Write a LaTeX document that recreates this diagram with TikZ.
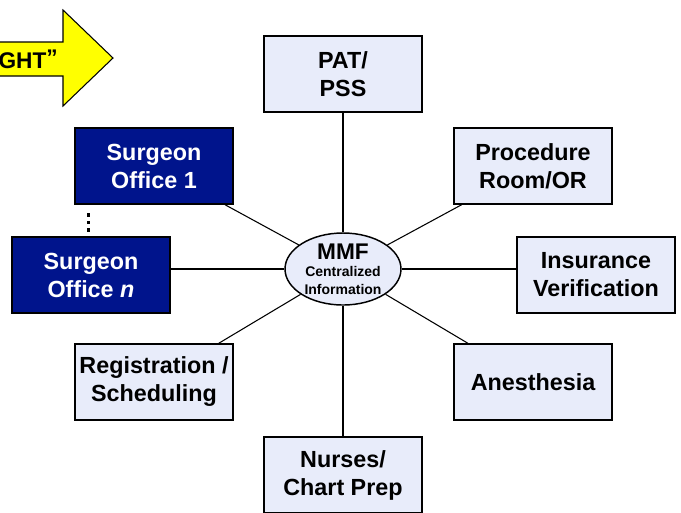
\documentclass[tikz,border=0pt]{standalone}
\usepackage{fontspec}
\setmainfont{Liberation Sans}
\usetikzlibrary{shapes.geometric}
\definecolor{navy}{RGB}{0,20,140}
\definecolor{lightbox}{RGB}{232,236,250}
\definecolor{arrowyellow}{RGB}{255,255,0}
\begin{document}
\begin{tikzpicture}[x=0.75pt,y=-0.75pt,
  boxtext/.style={font=\bfseries\fontsize{17.5}{21}\selectfont,align=center},
  lightnode/.style={boxtext,draw=black,line width=1.1pt,fill=lightbox,minimum width=118.5pt,minimum height=57pt,inner sep=0pt},
  darknode/.style={boxtext,draw=black,line width=1.1pt,fill=navy,text=white,minimum width=118.5pt,minimum height=57pt,inner sep=0pt},
  link/.style={draw=black,line width=0.8pt}]
\useasboundingbox (0,0) rectangle (681,512);
% arrow
\draw[fill=arrowyellow,draw=black,line width=0.8pt] (-20,42)--(63,42)--(63,10)--(113,58)--(63,106)--(63,76)--(-20,76)--cycle;
\node[anchor=base east,font=\bfseries\fontsize{17}{20}\selectfont,inner sep=0pt] (ght) at (58,68) {GHT\raisebox{0.1em}{”}};
% nodes
\node[ellipse,draw=black,line width=1.1pt,fill=lightbox,minimum width=87pt,minimum height=54pt,inner sep=0pt,align=center,font=\bfseries\fontsize{10.5}{13.5}\selectfont] (mmf) at (343,269)
  {\fontsize{17}{19}\selectfont MMF\\[-1pt]\fontsize{10.5}{13.5}\selectfont Centralized\\Information};
\node[lightnode] (pat) at (343,74) {PAT/\\PSS};
\node[lightnode] (proc) at (533,166) {Procedure\\Room/OR};
\node[lightnode] (ins) at (596,275) {Insurance\\Verification};
\node[lightnode] (anes) at (533,382) {Anesthesia};
\node[lightnode] (nurse) at (343,475) {Nurses/\\Chart Prep};
\node[lightnode] (reg) at (154,382) {Registration /\\Scheduling};
\node[darknode] (so1) at (154,166) {Surgeon\\Office 1};
\node[darknode] (son) at (91,275) {Surgeon\\Office \textit{n}};
% dots
\foreach \yy in {213,220.5,228} \fill[black] (86.5,\yy) rectangle (90,\yy+3.5);
% links
\draw[link] (mmf) -- (pat);
\draw[link] (mmf) -- (proc);
\draw[link] (mmf.east) -- (mmf.east -| ins.west);
\draw[link] (mmf) -- (anes);
\draw[link] (mmf) -- (nurse);
\draw[link] (mmf) -- (reg);
\draw[link] (mmf) -- (so1);
\draw[link] (mmf.west) -- (mmf.west -| son.east);
\end{tikzpicture}
\end{document}
